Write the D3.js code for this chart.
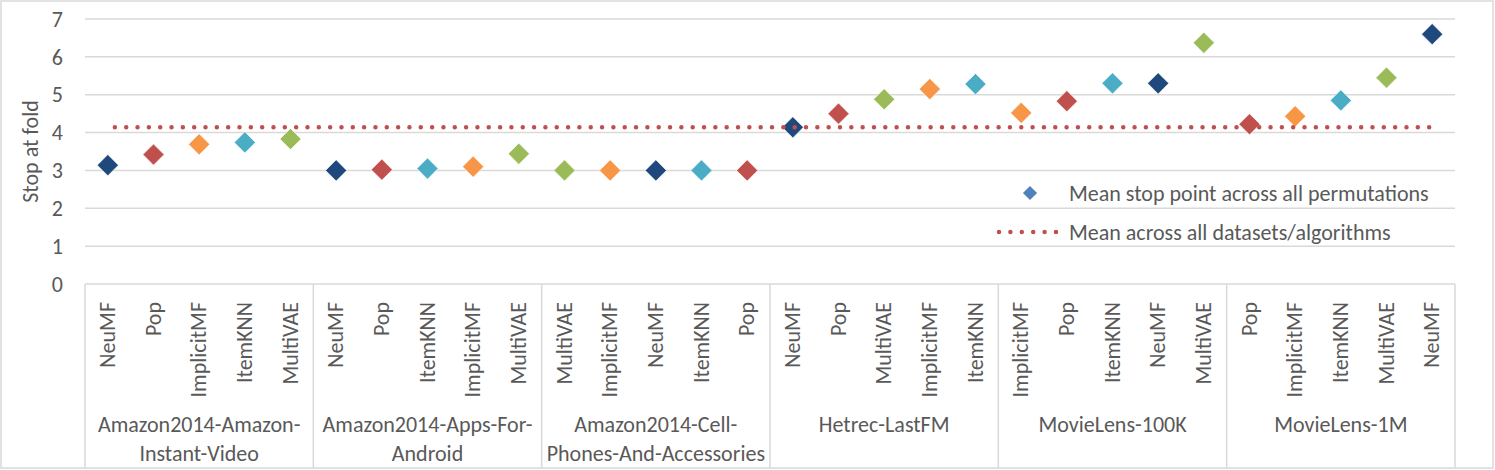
<!DOCTYPE html>
<html>
<head>
<meta charset="utf-8">
<script src="https://cdn.jsdelivr.net/npm/d3@7"></script>
<style>
  body { margin: 0; background: #fff; }
  svg text { font-family: Carlito, Calibri, Lato, sans-serif; fill: #595959; }
</style>
</head>
<body>
<div id="chart"></div>
<script>
// data
const datasetLabels = [
    ["Amazon2014-Amazon-", "Instant-Video"],
    ["Amazon2014-Apps-For-", "Android"],
    ["Amazon2014-Cell-", "Phones-And-Accessories"],
    ["Hetrec-LastFM"],
    ["MovieLens-100K"],
    ["MovieLens-1M"]
];
const algorithms = [
    "NeuMF", "Pop", "ImplicitMF", "ItemKNN", "MultiVAE",
    "NeuMF", "Pop", "ItemKNN", "ImplicitMF", "MultiVAE",
    "MultiVAE", "ImplicitMF", "NeuMF", "ItemKNN", "Pop",
    "NeuMF", "Pop", "MultiVAE", "ImplicitMF", "ItemKNN",
    "ImplicitMF", "Pop", "ItemKNN", "NeuMF", "MultiVAE",
    "Pop", "ImplicitMF", "ItemKNN", "MultiVAE", "NeuMF"
];
const stopValues = [
    3.14, 3.42, 3.69, 3.74, 3.83,
    3.00, 3.02, 3.05, 3.10, 3.44,
    3.00, 3.00, 3.00, 3.00, 3.00,
    4.14, 4.50, 4.88, 5.15, 5.28,
    4.52, 4.83, 5.30, 5.30, 6.37,
    4.22, 4.43, 4.85, 5.45, 6.60
];
const yTicks = [0, 1, 2, 3, 4, 5, 6, 7];
const meanAll = 4.14;
const perGroup = 5;

const algoColor = {
    NeuMF: "#1F497D",
    Pop: "#C0504D",
    ImplicitMF: "#F79646",
    ItemKNN: "#4BACC6",
    MultiVAE: "#9BBB59"
};

const width = 1495, height = 470;
const plot = {left: 85, right: 1455, top: 19, bottom: 284};
const gridColor = "#d9d9d9";
const fontSize = "22px";

const svg = d3.select("#chart").append("svg")
    .attr("width", width)
    .attr("height", height);

// outer frame
svg.append("rect")
    .attr("x", 1).attr("y", 1)
    .attr("width", width - 3).attr("height", height - 3)
    .attr("fill", "none")
    .attr("stroke", gridColor)
    .attr("stroke-width", 1.5);

const x = d3.scaleBand()
    .domain(d3.range(algorithms.length))
    .range([plot.left, plot.right]);

const y = d3.scaleLinear()
    .domain([0, 7])
    .range([plot.bottom, plot.top]);

// gridlines
svg.append("g")
    .selectAll("line")
    .data(yTicks)
    .enter()
    .append("line")
    .attr("x1", plot.left)
    .attr("x2", plot.right)
    .attr("y1", d => y(d))
    .attr("y2", d => y(d))
    .attr("stroke", gridColor)
    .attr("stroke-width", 1.5);

// y axis labels
svg.append("g")
    .selectAll("text")
    .data(yTicks)
    .enter()
    .append("text")
    .attr("x", 63)
    .attr("y", d => y(d))
    .attr("dy", "0.35em")
    .attr("text-anchor", "end")
    .attr("font-size", fontSize)
    .text(d => d);

svg.append("text")
    .attr("transform", `translate(38, ${(plot.top + plot.bottom) / 2}) rotate(-90)`)
    .attr("text-anchor", "middle")
    .attr("font-size", fontSize)
    .text("Stop at fold");

// group dividers in the category area
const dividers = d3.range(0, algorithms.length + 1, perGroup)
    .map(i => i < algorithms.length ? x(i) : plot.right);

svg.append("g")
    .selectAll("line")
    .data(dividers)
    .enter()
    .append("line")
    .attr("x1", d => d)
    .attr("x2", d => d)
    .attr("y1", plot.bottom)
    .attr("y2", height - 2)
    .attr("stroke", gridColor)
    .attr("stroke-width", 1.5);

// algorithm labels (rotated)
svg.append("g")
    .selectAll("text")
    .data(algorithms)
    .enter()
    .append("text")
    .attr("transform", (d, i) => `translate(${x(i) + x.bandwidth() / 2 + 7}, 302) rotate(-90)`)
    .attr("text-anchor", "end")
    .attr("font-size", fontSize)
    .text(d => d);

// dataset labels
const groupText = svg.append("g")
    .selectAll("text")
    .data(datasetLabels)
    .enter()
    .append("text")
    .attr("text-anchor", "middle")
    .attr("font-size", fontSize)
    .attr("transform", (d, i) => `translate(${x(i * perGroup) + x.bandwidth() * perGroup / 2}, 432)`);

groupText.selectAll("tspan")
    .data(d => d)
    .enter()
    .append("tspan")
    .attr("x", 0)
    .attr("y", (d, i) => i * 29)
    .text(d => d);

// diamonds
const diamond = d3.symbol().type(d3.symbolSquare).size(225);

svg.append("g")
    .selectAll("path")
    .data(stopValues)
    .enter()
    .append("path")
    .attr("d", diamond)
    .attr("transform", (d, i) => `translate(${x(i) + x.bandwidth() / 2}, ${y(d)}) rotate(45)`)
    .attr("fill", (d, i) => algoColor[algorithms[i]])
    .attr("stroke", "#fff")
    .attr("stroke-width", 0.6);

// mean line (round dots)
const firstX = x(0) + x.bandwidth() / 2;
const lastX = x(algorithms.length - 1) + x.bandwidth() / 2;
svg.append("line")
    .attr("x1", firstX)
    .attr("x2", lastX)
    .attr("y1", y(meanAll))
    .attr("y2", y(meanAll))
    .attr("stroke", "#C0504D")
    .attr("stroke-width", 4.5)
    .attr("stroke-linecap", "round")
    .attr("stroke-dasharray", "0 11.33")
    .attr("stroke-dashoffset", 4.3);

// legend
const legend = svg.append("g");

legend.append("path")
    .attr("d", d3.symbol().type(d3.symbolSquare).size(100))
    .attr("transform", "translate(1030, 193) rotate(45)")
    .attr("fill", "#4F81BD");

legend.append("text")
    .attr("x", 1069)
    .attr("y", 193)
    .attr("dy", "0.35em")
    .attr("font-size", fontSize)
    .text("Mean stop point across all permutations");

legend.append("line")
    .attr("x1", 999)
    .attr("x2", 1056)
    .attr("y1", 232)
    .attr("y2", 232)
    .attr("stroke", "#C0504D")
    .attr("stroke-width", 4.5)
    .attr("stroke-linecap", "round")
    .attr("stroke-dasharray", "0 11.4");

legend.append("text")
    .attr("x", 1069)
    .attr("y", 232)
    .attr("dy", "0.35em")
    .attr("font-size", fontSize)
    .text("Mean across all datasets/algorithms");
</script>
</body>
</html>
